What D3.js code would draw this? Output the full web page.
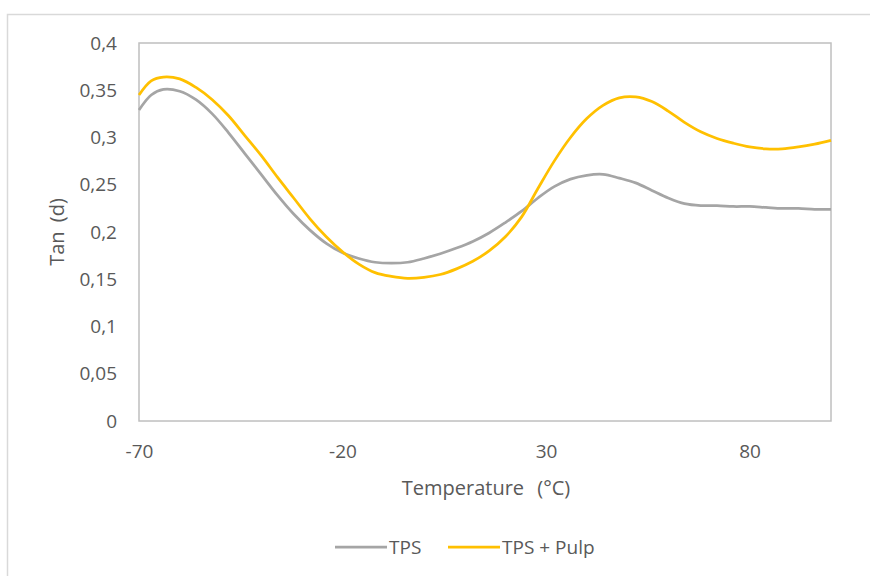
<!DOCTYPE html>
<html>
<head>
<meta charset="utf-8">
<script src="https://cdn.jsdelivr.net/npm/d3@7"></script>
<style>
  body { margin: 0; background: #fff; }
  text { font-family: "Open Sans", sans-serif; fill: #595959; }
</style>
</head>
<body>
<div class="svg"></div>
<script>
// temperatures (°C) and tan delta
var temps = [-70, -67, -64, -60, -56, -52, -48, -44, -40, -36, -32, -28, -24, -20, -16, -12, -8, -4,
             0, 4, 8, 12, 16, 20, 24, 28, 32, 36, 40, 44, 48, 52, 56, 60, 64, 68, 72, 76, 80, 84, 88, 92, 96, 100];
var tps = [0.329, 0.345, 0.351, 0.349, 0.340, 0.325, 0.305, 0.283, 0.261, 0.239, 0.219, 0.202, 0.188, 0.178, 0.172, 0.168, 0.167, 0.168,
           0.172, 0.177, 0.183, 0.190, 0.199, 0.210, 0.222, 0.236, 0.248, 0.256, 0.260, 0.261, 0.257, 0.252, 0.244, 0.236, 0.230, 0.228,
           0.228, 0.227, 0.227, 0.226, 0.225, 0.225, 0.224, 0.224];
var tpsPulp = [0.345, 0.360, 0.364, 0.362, 0.353, 0.340, 0.323, 0.302, 0.281, 0.258, 0.236, 0.214, 0.195, 0.179, 0.166, 0.157, 0.153, 0.151,
               0.152, 0.155, 0.161, 0.169, 0.180, 0.195, 0.216, 0.246, 0.275, 0.300, 0.320, 0.334, 0.342, 0.343, 0.338, 0.328, 0.316, 0.306,
               0.299, 0.294, 0.290, 0.288, 0.288, 0.290, 0.293, 0.297];
var xTicks = [-70, -20, 30, 80];
var yTicks = [0, 0.05, 0.1, 0.15, 0.2, 0.25, 0.3, 0.35, 0.4];
var seriesNames = ["TPS", "TPS + Pulp"];
var seriesColors = ["#a5a5a5", "#ffc000"];

var width = 870, height = 576;
var svg = d3.select(".svg").append("svg")
    .attr("width", width)
    .attr("height", height);

// outer chart frame (only top/left visible in the crop)
svg.append("path")
    .attr("d", "M7.5,576 V14.5 H870")
    .attr("fill", "none")
    .attr("stroke", "#d9d9d9")
    .attr("stroke-width", 1.5);

var plotL = 139, plotR = 831, plotT = 43, plotB = 421;

var x = d3.scaleLinear().domain([-70, 100]).range([plotL, plotR]);
var y = d3.scaleLinear().domain([0, 0.4]).range([plotB, plotT]);

// excel style: decimal comma, plain hyphen minus
var fmt = function (d) { return d3.format("~g")(d).replace(".", ",").replace("\u2212", "-"); };

// y tick labels
svg.append("g")
    .attr("transform", "translate(" + (plotL - 22) + ",0)")
    .call(d3.axisLeft(y).tickValues(yTicks).tickSize(0).tickPadding(0).tickFormat(fmt))
    .call(function (g) { g.select(".domain").remove(); })
    .selectAll("text")
    .attr("font-size", 19)
    .attr("font-family", "'Open Sans', sans-serif")
    .attr("fill", "#595959");

// x tick labels
svg.append("g")
    .attr("transform", "translate(0," + 444 + ")")
    .call(d3.axisBottom(x).tickValues(xTicks).tickSize(0).tickPadding(0).tickFormat(fmt))
    .call(function (g) { g.select(".domain").remove(); })
    .selectAll("text")
    .attr("font-size", 19)
    .attr("font-family", "'Open Sans', sans-serif")
    .attr("fill", "#595959");

// plot frame
svg.append("rect")
    .attr("x", plotL)
    .attr("y", plotT)
    .attr("width", plotR - plotL)
    .attr("height", plotB - plotT)
    .attr("fill", "none")
    .attr("stroke", "#bfbfbf")
    .attr("stroke-width", 1.5);

var line = d3.line()
    .x(function (d) { return x(d[0]); })
    .y(function (d) { return y(d[1]); })
    .curve(d3.curveCatmullRom.alpha(0.5));

[tps, tpsPulp].forEach(function (vals, i) {
    svg.append("path")
        .datum(temps.map(function (t, j) { return [t, vals[j]]; }))
        .attr("d", line)
        .attr("fill", "none")
        .attr("stroke", seriesColors[i])
        .attr("stroke-width", 2.75)
        .attr("stroke-linejoin", "round");
});

// axis titles
svg.append("text")
    .attr("x", 486)
    .attr("y", 495)
    .attr("text-anchor", "middle")
    .attr("font-size", 20)
    .attr("word-spacing", 8)
    .text("Temperature (°C)");

svg.append("text")
    .attr("transform", "translate(64," + ((plotT + plotB) / 2) + ") rotate(-90)")
    .attr("text-anchor", "middle")
    .attr("font-size", 20)
    .attr("word-spacing", 4)
    .text("Tan (d)");

// legend
var legendX = [335, 448];
seriesNames.forEach(function (name, i) {
    svg.append("line")
        .attr("x1", legendX[i]).attr("x2", legendX[i] + 52)
        .attr("y1", 547).attr("y2", 547)
        .attr("stroke", seriesColors[i])
        .attr("stroke-width", 2.75);
    svg.append("text")
        .attr("x", legendX[i] + 54)
        .attr("y", 554)
        .attr("font-size", 19)
        .text(name);
});
</script>
</body>
</html>
